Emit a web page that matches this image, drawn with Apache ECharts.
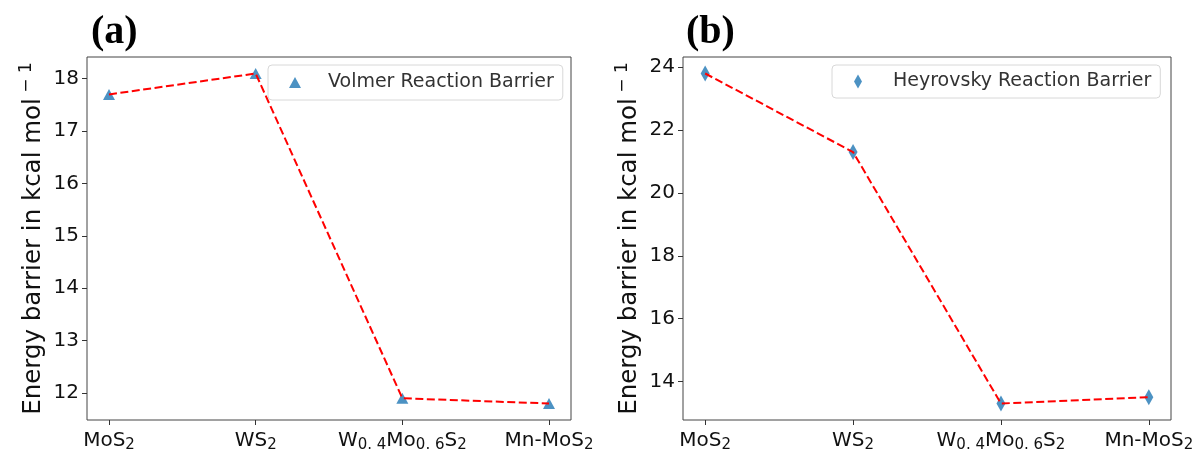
<!DOCTYPE html>
<html>
<head>
<meta charset="utf-8">
<script src="https://cdn.jsdelivr.net/npm/echarts@6/dist/echarts.min.js"></script>
<style>
  html, body { margin: 0; padding: 0; background: #fff; }
  #chart { width: 1199px; height: 453px; }
</style>
</head>
<body>
<div id="chart"></div>
<script>
// x categories (rich text labels with subscripts)
const categories = ['MoS2', 'WS2', 'W0.4Mo0.6S2', 'Mn-MoS2']
const catLabels = [
  '{n|MoS}{s|2}',
  '{n|WS}{s|2}',
  '{n|W}{s|0. 4}{n|Mo}{s|0. 6}{n|S}{s|2}',
  '{n|Mn-MoS}{s|2}'
]
const volmer = [17.7, 18.1, 11.9, 11.8]
const heyrovsky = [23.8, 21.3, 13.3, 13.5]
const volmerTicks = [12, 13, 14, 15, 16, 17, 18]
const heyrovskyTicks = [14, 16, 18, 20, 22, 24]

const blue = '#1f77b4'
const font = 'DejaVu Sans'

function pts(vals) {
  return vals.map((v, i) => [i, v])
}

function xAxis(gridIndex) {
  return {
    type: 'value', gridIndex, min: -0.15, max: 3.15,
    splitLine: { show: false },
    axisLine: { show: false, onZero: false },
    axisTick: { show: true, length: 5, lineStyle: { color: '#333' }, customValues: [0, 1, 2, 3] },
    axisLabel: {
      customValues: [0, 1, 2, 3], margin: 7,
      formatter: v => catLabels[Math.round(v)],
      rich: {
        n: { fontFamily: font, fontSize: 20, color: '#111', lineHeight: 24, verticalAlign: 'bottom' },
        s: { fontFamily: font, fontSize: 15, color: '#111', lineHeight: 24, verticalAlign: 'bottom', padding: [0, 0, -2, 0] }
      }
    }
  }
}

function yAxis(gridIndex, min, max, ticks) {
  return {
    type: 'value', gridIndex, min, max,
    splitLine: { show: false },
    axisLine: { show: false, onZero: false },
    axisTick: { show: true, length: 5, lineStyle: { color: '#333' }, customValues: ticks },
    axisLabel: { customValues: ticks, margin: 8, fontFamily: font, fontSize: 20, color: '#111' },
    name: '{n|Energy barrier in kcal mol}{p| − 1}',
    nameLocation: 'middle', nameRotate: 90, nameGap: 39,
    nameTextStyle: {
      rich: {
        n: { fontFamily: font, fontSize: 24.5, color: '#111', lineHeight: 29 },
        p: { fontFamily: font, fontSize: 17, color: '#111', lineHeight: 29, padding: [0, 0, 13, 0] }
      }
    }
  }
}

const chart = echarts.init(document.getElementById('chart'))
chart.setOption({
  animation: false,
  backgroundColor: '#fff',
  title: [
    { text: '(a)', left: 86, top: 8, textStyle: { fontFamily: 'Liberation Serif', fontWeight: 'bold', fontSize: 40, color: '#000' } },
    { text: '(b)', left: 681, top: 8, textStyle: { fontFamily: 'Liberation Serif', fontWeight: 'bold', fontSize: 40, color: '#000' } }
  ],
  grid: [
    { left: 87, top: 57, width: 484, height: 365, show: true, borderColor: '#444', borderWidth: 1, backgroundColor: 'transparent' },
    { left: 683, top: 57, width: 488, height: 365, show: true, borderColor: '#444', borderWidth: 1, backgroundColor: 'transparent' }
  ],
  xAxis: [xAxis(0), xAxis(1)],
  yAxis: [yAxis(0, 11.485, 18.415, volmerTicks), yAxis(1, 12.775, 24.325, heyrovskyTicks)],
  legend: [
    {
      data: [{ name: 'Volmer Reaction Barrier', icon: 'triangle' }],
      left: 268, top: 65, orient: 'vertical',
      itemWidth: 12, itemHeight: 11,
      padding: [8, 9, 8, 21],
      borderColor: '#d8d8d8', borderWidth: 1, borderRadius: 4,
      textStyle: { fontFamily: font, fontSize: 19, color: '#333', padding: [0, 0, 0, 22] }
    },
    {
      data: [{ name: 'Heyrovsky Reaction Barrier', icon: 'diamond' }],
      left: 832, top: 65, orient: 'vertical',
      itemWidth: 8, itemHeight: 14,
      padding: [7, 9, 7, 22],
      borderColor: '#d8d8d8', borderWidth: 1, borderRadius: 4,
      textStyle: { fontFamily: font, fontSize: 19, color: '#333', padding: [0, 0, 0, 26] }
    }
  ],
  series: [
    {
      name: 'Volmer Reaction Barrier', type: 'scatter', xAxisIndex: 0, yAxisIndex: 0,
      data: pts(volmer), symbol: 'triangle', symbolSize: [12, 11],
      itemStyle: { color: blue }, z: 2
    },
    {
      name: 'volmer-line', type: 'line', xAxisIndex: 0, yAxisIndex: 0,
      data: pts(volmer), showSymbol: false, symbol: 'none',
      lineStyle: { color: '#ff0000', width: 2, type: [8, 3.5] }, z: 3
    },
    {
      name: 'Heyrovsky Reaction Barrier', type: 'scatter', xAxisIndex: 1, yAxisIndex: 1,
      data: pts(heyrovsky), symbol: 'diamond', symbolSize: [9, 16],
      itemStyle: { color: blue }, z: 2
    },
    {
      name: 'heyrovsky-line', type: 'line', xAxisIndex: 1, yAxisIndex: 1,
      data: pts(heyrovsky), showSymbol: false, symbol: 'none',
      lineStyle: { color: '#ff0000', width: 2, type: [8, 3.5] }, z: 3
    }
  ]
})
</script>
</body>
</html>
